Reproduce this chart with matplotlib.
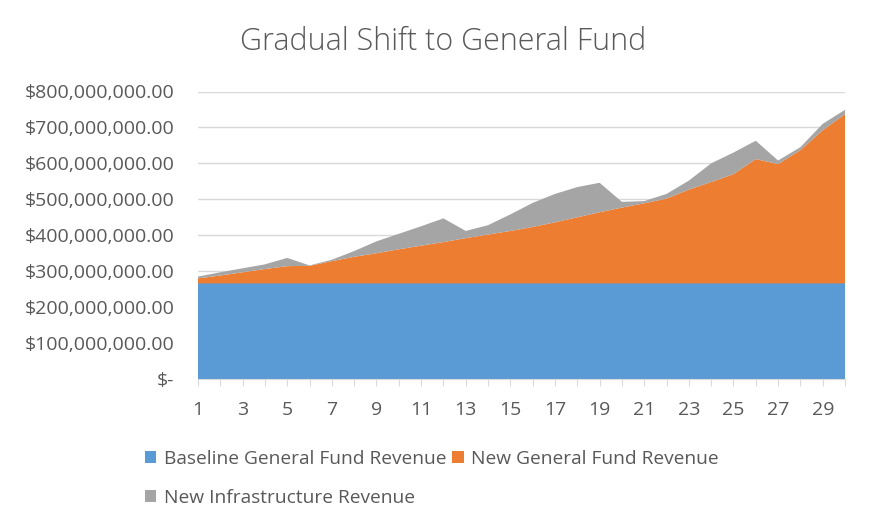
import matplotlib
matplotlib.use("Agg")
import matplotlib.pyplot as plt
from matplotlib.ticker import FuncFormatter, MultipleLocator

plt.rcParams['font.family'] = ['Open Sans', 'DejaVu Sans']

# years 1..30, values in millions of dollars
years = list(range(1, 31))
baseline = [266] * 30
new_general_fund = [14, 22, 31, 40, 48, 49, 62, 74, 84, 95,
                    105, 115, 126, 136, 146, 157, 170, 184, 198, 211,
                    223, 236, 261, 282, 304, 346, 332, 371, 426, 471]
new_infrastructure = [5, 9, 11, 13, 23, 1, 4, 16, 33, 43,
                      54, 66, 20, 26, 46, 67, 79, 84, 82, 16,
                      6, 13, 25, 52, 60, 51, 10, 8, 18, 12]
series_names = ['Baseline General Fund Revenue', 'New General Fund Revenue',
                'New Infrastructure Revenue']
colors = ['#5B9BD5', '#ED7D31', '#A5A5A5']
text_color = '#595959'

fig = plt.figure(figsize=(8.71, 5.25), dpi=100)
ax = fig.add_axes([198 / 871, 1 - 379 / 525, (845 - 198) / 871, (379 - 91.5) / 525])

m = 1e6
polys = ax.stackplot(years,
                     [v * m for v in baseline],
                     [v * m for v in new_general_fund],
                     [v * m for v in new_infrastructure],
                     colors=colors, zorder=2)

ax.set_xlim(1, 30)
ax.set_ylim(0, 800 * m)
ax.yaxis.set_major_locator(MultipleLocator(100 * m))
ax.grid(axis='y', color='#D9D9D9', linewidth=1, zorder=0)
ax.set_axisbelow(True)


def money(v, pos):
    if v == 0:
        return '$-'
    return '${:,.2f}'.format(v)


ax.yaxis.set_major_formatter(FuncFormatter(money))
ax.set_xticks(years)
ax.set_xticklabels([str(y) if y % 2 == 1 else '' for y in years])

for side in ['top', 'right', 'left']:
    ax.spines[side].set_visible(False)
ax.spines['bottom'].set_color('#D9D9D9')
ax.tick_params(axis='y', length=0, pad=17, labelsize=14, labelcolor=text_color)
ax.tick_params(axis='x', length=5, color='#D9D9D9', pad=11, labelsize=14, labelcolor=text_color)

fig.text(443 / 871, 1 - 42 / 525, 'Gradual Shift to General Fund', ha='center', va='center',
         fontsize=22, color=text_color, fontweight='light')

# legend order gives row 1: baseline, new GF; row 2: infrastructure
handles = [polys[0], polys[2], polys[1]]
labels = [series_names[0], series_names[2], series_names[1]]
fig.legend(handles, labels, ncol=2, loc='upper left', bbox_to_anchor=(137 / 871, 1 - 442 / 525),
           frameon=False, fontsize=13.8, labelcolor=text_color, handlelength=0.6, handleheight=0.6,
           handletextpad=0.4, columnspacing=0.3, labelspacing=1.1, borderaxespad=0)

fig.savefig('out.png', dpi=100)
